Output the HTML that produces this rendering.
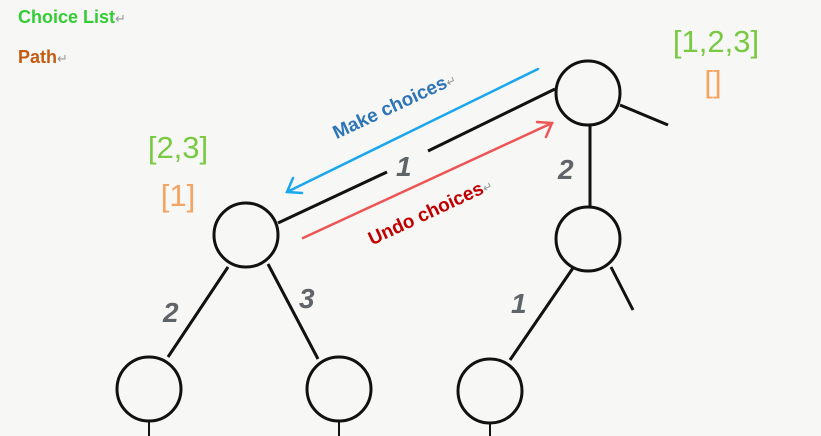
<!DOCTYPE html>
<html><head><style>
html,body{margin:0;padding:0;background:#f7f7f6;}
svg{display:block;}
</style></head><body>
<svg width="821" height="436" viewBox="0 0 821 436" xmlns="http://www.w3.org/2000/svg" font-family="Liberation Sans, sans-serif">
<rect width="821" height="436" fill="#f7f7f6"/>
<text x="18" y="23" font-size="18" font-weight="bold" fill="#33cc33">Choice List<tspan fill="#999" font-weight="normal" font-size="13">↵</tspan></text>
<text x="18" y="63" font-size="18" font-weight="bold" fill="#c55a11">Path<tspan fill="#999" font-weight="normal" font-size="13">↵</tspan></text>
<g font-size="31" text-anchor="middle">
<text x="178" y="158" fill="#7ac943">[2,3]</text>
<text x="178" y="206" fill="#f4a460">[1]</text>
<text x="716" y="52" fill="#7ac943">[1,2,3]</text>
<text x="713" y="92" fill="#f4a460">[]</text>
</g>
<g stroke="#111" stroke-width="3" fill="none">
<circle cx="588" cy="93" r="32"/>
<circle cx="246" cy="235" r="32"/>
<circle cx="588" cy="239" r="32"/>
<circle cx="149" cy="389" r="32"/>
<circle cx="339" cy="389" r="32"/>
<circle cx="490" cy="391" r="32"/>
<line x1="555" y1="89" x2="428" y2="151"/>
<line x1="387" y1="172" x2="278" y2="223"/>
<line x1="620" y1="105" x2="668" y2="125"/>
<line x1="590" y1="125" x2="590" y2="207"/>
<line x1="228" y1="267" x2="168" y2="357"/>
<line x1="268" y1="264" x2="318" y2="359"/>
<line x1="573" y1="268" x2="510" y2="360"/>
<line x1="611" y1="267" x2="633" y2="310"/>
<line x1="149" y1="421" x2="149" y2="436" stroke-width="2"/>
<line x1="339" y1="421" x2="339" y2="436" stroke-width="2"/>
<line x1="490" y1="423" x2="490" y2="436" stroke-width="2"/>
</g>
<g font-size="28" font-weight="bold" fill="#5f6468" font-style="italic">
<text x="396" y="176">1</text>
<text x="558" y="179">2</text>
<text x="163" y="322">2</text>
<text x="299" y="308">3</text>
<text x="511" y="313">1</text>
</g>
<g stroke-width="2.5" fill="none" stroke-linecap="round">
<line x1="538" y1="69" x2="287" y2="192" stroke="#1aa7ec"/>
<polyline points="293,178 287,192 302,193" stroke="#1aa7ec"/>
<line x1="303" y1="238" x2="552" y2="123" stroke="#ee5555"/>
<polyline points="537,122 552,123 546,137" stroke="#ee5555"/>
</g>
<text transform="translate(397,111) rotate(-25)" text-anchor="middle" font-size="19" font-weight="bold" fill="#2e75b6">Make choices<tspan fill="#999" font-weight="normal" font-size="12">↵</tspan></text>
<text transform="translate(433,217) rotate(-25)" text-anchor="middle" font-size="19" font-weight="bold" fill="#c00000">Undo choices<tspan fill="#999" font-weight="normal" font-size="12">↵</tspan></text>
</svg>
</body></html>
